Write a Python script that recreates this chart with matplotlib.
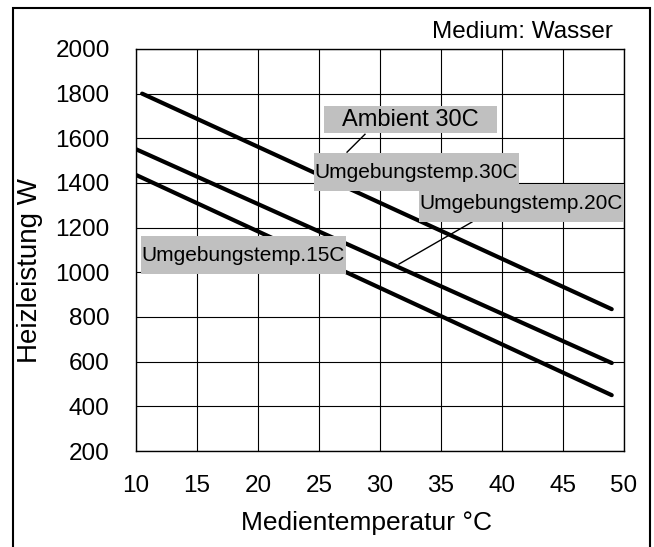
import matplotlib
matplotlib.use("Agg")
import matplotlib.pyplot as plt
from matplotlib.patches import Rectangle
from matplotlib.path import Path

plt.rcParams['font.family'] = ['Liberation Sans', 'DejaVu Sans']

# Kennlinien (Medientemperatur °C -> Heizleistung W)
temp_30 = [10.5, 49.0]
leistung_30 = [1800, 835]
temp_20 = [10.0, 49.0]
leistung_20 = [1551, 594]
temp_15 = [10.0, 49.0]
leistung_15 = [1436, 450]

x_ticks = [10, 15, 20, 25, 30, 35, 40, 45, 50]
y_ticks = [200, 400, 600, 800, 1000, 1200, 1400, 1600, 1800, 2000]


def kasten(px, py):
    # rechteckiger Hintergrund mit getrenntem Abstand in x und y
    def style(x0, y0, width, height, mutation_size):
        dx, dy = px * mutation_size, py * mutation_size
        x0, y0 = x0 - dx, y0 - dy
        x1, y1 = x0 + width + 2 * dx, y0 + height + 2 * dy
        return Path([(x0, y0), (x1, y0), (x1, y1), (x0, y1), (x0, y0)], closed=True)
    return style


fig = plt.figure(figsize=(6.54, 5.47), dpi=100)
ax = fig.add_axes([0.208, 0.1755, 0.746, 0.735])

for x, y in [(temp_30, leistung_30), (temp_20, leistung_20), (temp_15, leistung_15)]:
    ax.plot(x, y, color='black', lw=3, solid_capstyle='round', zorder=3)

ax.set_xlim(10, 50)
ax.set_ylim(200, 2000)
ax.set_xticks(x_ticks)
ax.set_yticks(y_ticks)
ax.grid(True, color='black', lw=0.8)
ax.tick_params(length=0, labelsize=17.5)
ax.tick_params(axis='x', pad=17)
ax.tick_params(axis='y', pad=19)
for s in ax.spines.values():
    s.set_linewidth(1)

ax.set_xlabel('Medientemperatur °C', fontsize=19)
ax.xaxis.label.set_verticalalignment('center')
ax.xaxis.set_label_coords(0.473, -0.179)
ax.set_ylabel('Heizleistung W', fontsize=20)
ax.yaxis.label.set_verticalalignment('center')
ax.yaxis.set_label_coords(-0.217, 0.45)

ax.text(0.977, 1.042, 'Medium: Wasser', transform=ax.transAxes,
        ha='right', va='center', fontsize=17.5)

# Beschriftungen mit grauem Hintergrund
grau = '#c0c0c0'
ax.plot([28.77, 27.30], [1618, 1538], color='black', lw=1, zorder=4)
ax.plot([37.54, 31.56], [1225, 1037], color='black', lw=1, zorder=4)
ax.text(32.5, 1683, 'Ambient 30C', ha='center', va='center', fontsize=17,
        bbox=dict(boxstyle=kasten(0.76, 0.1), fc=grau, ec='none'), zorder=5)
for tx, ty, label in [(33.0, 1448, 'Umgebungstemp.30C'),
                      (41.6, 1310, 'Umgebungstemp.20C'),
                      (18.8, 1077, 'Umgebungstemp.15C')]:
    ax.text(tx, ty, label, ha='center', va='center', fontsize=15,
            bbox=dict(boxstyle=kasten(0.05, 0.45), fc=grau, ec='none'), zorder=5)

# Rahmen um die ganze Grafik
fig.patches.append(Rectangle((0.02, -0.01), 0.974, 0.995, transform=fig.transFigure,
                             fill=False, ec='black', lw=1.5))

fig.savefig('out.png', dpi=100)
